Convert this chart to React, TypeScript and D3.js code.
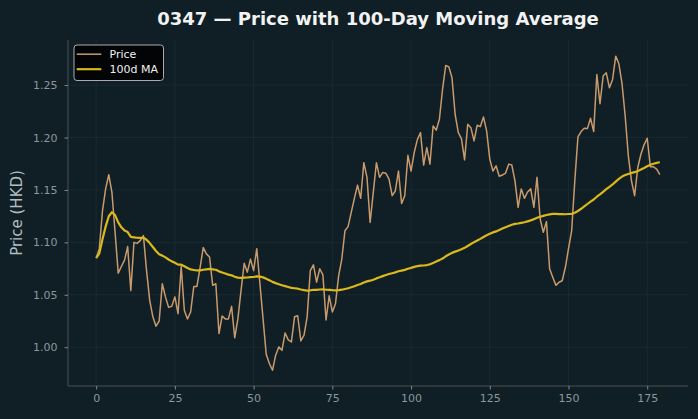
import React, { useRef, useEffect } from "react";
import { select, scaleLinear, line, axisBottom, axisLeft, mean } from "d3";

// closing prices, one per trading day
const days = Array.from({ length: 180 }, (_, i) => i);
const price = [
  1.085, 1.094, 1.130, 1.151, 1.1645, 1.1476, 1.1096, 1.0706, 1.077, 1.083,
  1.096, 1.054, 1.100, 1.099, 1.1017, 1.1065, 1.073, 1.0447, 1.029, 1.020,
  1.025, 1.0605, 1.048, 1.038, 1.039, 1.048, 1.032, 1.077, 1.035, 1.027,
  1.0336, 1.058, 1.058, 1.076, 1.095, 1.089, 1.086, 1.059, 1.0605, 1.013,
  1.0298, 1.027, 1.027, 1.039, 1.009, 1.027, 1.054, 1.080, 1.0716, 1.084,
  1.073, 1.094, 1.0605, 1.027, 0.9933, 0.9845, 0.978, 0.9924, 1.0003, 0.997,
  1.0136, 1.007, 1.005, 1.029, 1.030, 1.006, 1.0114, 1.029, 1.073, 1.0786,
  1.062, 1.0748, 1.069, 1.026, 1.049, 1.0336, 1.0415, 1.068, 1.084, 1.111,
  1.115, 1.1286, 1.142, 1.1546, 1.142, 1.176, 1.162, 1.119, 1.1476, 1.176,
  1.162, 1.1667, 1.166, 1.1604, 1.1445, 1.149, 1.168, 1.137, 1.1445, 1.183,
  1.168, 1.1857, 1.198, 1.2047, 1.1737, 1.1904, 1.1746, 1.211, 1.207, 1.2174,
  1.246, 1.2687, 1.2674, 1.257, 1.222, 1.2047, 1.199, 1.1787, 1.2126, 1.2094,
  1.1968, 1.2117, 1.2104, 1.2196, 1.2063, 1.1794, 1.168, 1.173, 1.163, 1.1642,
  1.166, 1.1746, 1.1737, 1.1587, 1.1334, 1.151, 1.142, 1.148, 1.151, 1.1334,
  1.162, 1.1223, 1.1096, 1.1198, 1.0748, 1.0668, 1.059, 1.062, 1.0634, 1.076,
  1.094, 1.111, 1.1587, 1.2006, 1.2057, 1.2088, 1.2085, 1.2183, 1.2057, 1.260,
  1.2322, 1.2586, 1.2617, 1.2474, 1.2554, 1.2776, 1.2703, 1.2513, 1.2205, 1.1825,
  1.1587, 1.1445, 1.1714, 1.184, 1.193, 1.1993, 1.172, 1.172, 1.1698, 1.1645,
];
const maWindow = 100;
const xTicks = [0, 25, 50, 75, 100, 125, 150, 175];
const yTicks = [1.0, 1.05, 1.1, 1.15, 1.2, 1.25];

const W = 698;
const H = 419;
const margin = { left: 68, right: 10, top: 40, bottom: 33 };

const BG = "#101f26";
const PRICE_COL = "#c99a6b";
const MA_COL = "#dbb81c";
const TICK_COL = "#8c969b";

export default function App() {
  const svgRef = useRef<SVGSVGElement>(null);

  useEffect(() => {
    const svg = select(svgRef.current);
    svg.selectAll("*").remove();

    const x0 = margin.left, x1 = W - margin.right;
    const y0 = H - margin.bottom, y1 = margin.top;

    const xScale = scaleLinear().domain([-8.95, 187.95]).range([x0, x1]);
    const yScale = scaleLinear().domain([0.963, 1.293]).range([y0, y1]);

    // rolling mean, fewer points at the start
    const ma = price.map((_, i) =>
      mean(price.slice(Math.max(0, i - maWindow + 1), i + 1)) as number
    );

    svg.append("rect").attr("width", W).attr("height", H).attr("fill", BG);

    // grid
    const grid = svg.append("g");
    xTicks.forEach(t =>
      grid.append("line")
        .attr("x1", xScale(t)).attr("x2", xScale(t))
        .attr("y1", y0).attr("y2", y1)
        .attr("stroke", "#1c2c33").attr("stroke-width", 0.8)
    );
    yTicks.forEach(t =>
      grid.append("line")
        .attr("x1", x0).attr("x2", x1)
        .attr("y1", yScale(t)).attr("y2", yScale(t))
        .attr("stroke", "#1c2c33").attr("stroke-width", 0.8)
    );

    // axes
    const xAxis = axisBottom(xScale).tickValues(xTicks).tickSize(3.5).tickPadding(5).tickFormat(d => String(d));
    const yAxis = axisLeft(yScale).tickValues(yTicks).tickSize(3.5).tickPadding(7).tickFormat(d => (+d).toFixed(2));

    const gx = svg.append("g").attr("transform", `translate(0,${y0})`).call(xAxis);
    const gy = svg.append("g").attr("transform", `translate(${x0},0)`).call(yAxis);
    [gx, gy].forEach(g => {
      g.select(".domain").attr("stroke", "#4a4f52").attr("stroke-width", 1);
      g.selectAll(".tick line").attr("stroke", "#9aa2a6").attr("stroke-width", 0.8);
      g.selectAll(".tick text")
        .attr("fill", TICK_COL)
        .style("font-family", "DejaVu Sans")
        .style("font-size", "11px");
    });
    gx.select(".domain").attr("d", `M${x0},0H${x1}`);
    gy.select(".domain").attr("d", `M0,${y0}V${y1}`);

    // series
    const priceLine = line<number>().x((_, i) => xScale(days[i])).y(d => yScale(d));
    svg.append("path").datum(price)
      .attr("d", priceLine).attr("fill", "none")
      .attr("stroke", PRICE_COL).attr("stroke-width", 1.5)
      .attr("stroke-linejoin", "round");
    svg.append("path").datum(ma)
      .attr("d", priceLine).attr("fill", "none")
      .attr("stroke", MA_COL).attr("stroke-width", 2.2)
      .attr("stroke-linejoin", "round");

    // title + y label
    svg.append("text")
      .attr("x", (x0 + x1) / 2).attr("y", 25)
      .attr("text-anchor", "middle")
      .attr("fill", "#f2f2f2")
      .style("font-family", "DejaVu Sans").style("font-weight", "bold").style("font-size", "18px")
      .text("0347 — Price with 100-Day Moving Average");
    svg.append("text")
      .attr("transform", `translate(21.5,${(y0 + y1) / 2}) rotate(-90)`)
      .attr("text-anchor", "middle")
      .attr("fill", "#b4bcc0")
      .style("font-family", "DejaVu Sans").style("font-size", "15px")
      .text("Price (HKD)");

    // legend
    const lg = svg.append("g").attr("transform", `translate(74,45)`);
    lg.append("rect")
      .attr("width", 89.5).attr("height", 35.5).attr("rx", 3)
      .attr("fill", "#000").attr("fill-opacity", 0.85)
      .attr("stroke", "#bdbdbd").attr("stroke-width", 0.9);
    [["Price", PRICE_COL, 1.5], ["100d MA", MA_COL, 2.2]].forEach(([label, col, w], k) => {
      const yy = 9.2 + k * 15;
      lg.append("line").attr("x1", 2.7).attr("x2", 27.3).attr("y1", yy).attr("y2", yy)
        .attr("stroke", col as string).attr("stroke-width", w as number);
      lg.append("text").attr("x", 35.5).attr("y", yy + 4)
        .attr("fill", "#f0f0f0")
        .style("font-family", "DejaVu Sans").style("font-size", "11px")
        .text(label as string);
    });
  }, []);

  return (
    <svg ref={svgRef} width={W} height={H}
      style={{ position: "absolute", left: 0, top: 0, display: "block" }} />
  );
}
